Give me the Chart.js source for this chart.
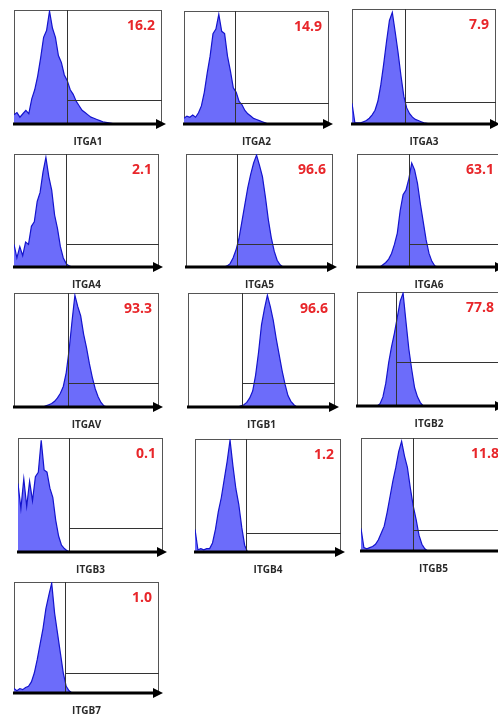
<!DOCTYPE html>
<html>
<head>
<meta charset="utf-8">
<script src="https://cdn.jsdelivr.net/npm/chart.js@4"></script>
<style>
  html, body { margin: 0; background: #fff; width: 498px; height: 719px; overflow: hidden; position: relative; }
  canvas { position: absolute; }
</style>
</head>
<body>
<script>
// integrin markers and % positive cells (right of the gate)
const markers = ['ITGA1', 'ITGA2', 'ITGA3', 'ITGA4', 'ITGA5', 'ITGA6', 'ITGAV',
                 'ITGB1', 'ITGB2', 'ITGB3', 'ITGB4', 'ITGB5', 'ITGB7'];
const positive = ['16.2', '14.9', '7.9', '2.1', '96.6', '63.1', '93.3',
                  '96.6', '77.8', '0.1', '1.2', '11.8', '1.0'];

// gate position, % of axis range
const gateX = [36, 35, 37, 36, 35, 36, 37, 37, 27, 35, 35, 36, 35];
const gateY = [21, 19, 19, 20, 20, 20, 21, 21, 39, 21, 17, 19, 18];

// histogram counts (% of max), one value per bin of width 2 on a 0-100 axis
const BIN = 2;
const itga1 = [8, 10, 6, 9, 12, 9, 22, 30, 42, 58, 76, 82, 99, 84, 76, 60, 54, 43, 38, 30, 26, 20, 16, 12, 10, 8, 6, 5, 4, 3, 2, 1.5, 1, 0.5, 0];
const itga2 = [5, 7, 6, 8, 6, 10, 16, 28, 45, 60, 80, 84, 97, 82, 80, 60, 47, 32, 28, 20, 17, 12, 9, 7, 5, 4, 3, 2, 1, 0];
const itga3 = [18, 1, 1, 1, 2, 3, 5, 8, 12, 20, 34, 52, 72, 90, 97, 80, 62, 42, 24, 14, 9, 6, 4, 3, 2, 1, 0.5, 0];
const itga4 = [20, 8, 18, 10, 22, 20, 36, 40, 58, 66, 84, 97, 80, 68, 46, 34, 18, 8, 3, 1, 0];
const itga5 = [0, 0, 0, 0, 0, 0, 0, 0, 0, 0, 0, 0, 0, 0, 1, 3, 8, 15, 25, 40, 55, 70, 82, 92, 99, 90, 80, 62, 42, 26, 14, 6, 2, 0];
const itga6 = [0, 0, 0, 0, 0, 0, 0, 0, 0, 2, 4, 7, 12, 20, 30, 50, 64, 68, 78, 92, 86, 74, 56, 40, 24, 12, 5, 1, 0];
const itgav = [0, 0, 0, 0, 0, 0, 0, 0, 0, 0, 0, 1, 2, 3, 5, 8, 12, 18, 30, 50, 75, 98, 88, 80, 64, 52, 38, 26, 16, 9, 4, 1, 0];
const itgb1 = [0, 0, 0, 0, 0, 0, 0, 0, 0, 0, 0, 0, 0, 0, 0, 0, 0, 0, 1, 2, 4, 8, 14, 28, 48, 72, 86, 98, 88, 76, 60, 46, 32, 20, 10, 5, 2, 0];
const itgb2 = [0, 0, 0, 0, 0, 0, 0, 0, 2, 8, 20, 38, 52, 64, 78, 92, 99, 74, 50, 32, 16, 8, 3, 0];
const itgb3 = [60, 38, 64, 40, 62, 45, 66, 70, 98, 72, 70, 56, 48, 28, 14, 6, 3, 1, 0];
const itgb4 = [20, 2, 3, 2, 3, 3, 8, 20, 36, 48, 64, 80, 99, 76, 56, 42, 22, 6, 0];
const itgb5 = [20, 3, 2, 3, 4, 6, 10, 16, 22, 34, 48, 62, 74, 88, 97, 84, 74, 56, 40, 28, 14, 6, 2, 0];
const itgb7 = [4, 2, 4, 3, 5, 6, 10, 18, 30, 44, 58, 76, 88, 99, 72, 54, 36, 18, 6, 2, 0];
const counts = [itga1, itga2, itga3, itga4, itga5, itga6, itgav, itgb1, itgb2, itgb3, itgb4, itgb5, itgb7];

// plot box of each panel on the page: left, top, right, axis line (px)
const boxes = [
  [14, 10, 162, 124], [184, 11, 329, 124], [352, 9, 496, 124],
  [14, 154, 159, 267], [186, 154, 333, 267], [357, 154, 501, 267],
  [14, 293, 159, 407], [188, 293, 335, 407], [357, 292, 501, 406],
  [18, 438, 163, 552], [195, 439, 341, 552], [361, 438, 506, 551],
  [14, 582, 159, 693]
];
const PAD = { left: 4, top: 3, right: 12, bottom: 28 };

const gatePlugin = {
  id: 'gate',
  beforeDatasetsDraw(chart, args, opts) {
    const { ctx, chartArea: a } = chart;
    ctx.save();
    ctx.strokeStyle = '#555';
    ctx.lineWidth = 1;
    ctx.strokeRect(a.left + 0.5, a.top + 0.5, a.right - a.left - 1, a.bottom - a.top);
    ctx.restore();
  },
  afterDatasetsDraw(chart, args, opts) {
    const { ctx, chartArea: a, scales: { x, y } } = chart;
    const gx = Math.round(x.getPixelForValue(opts.gx)) + 0.5;
    const gy = Math.round(y.getPixelForValue(opts.gy)) + 0.5;
    ctx.save();
    ctx.strokeStyle = '#333';
    ctx.lineWidth = 1;
    ctx.beginPath();
    ctx.moveTo(gx, a.top);
    ctx.lineTo(gx, a.bottom);
    ctx.moveTo(gx, gy);
    ctx.lineTo(a.right, gy);
    ctx.stroke();

    // thick axis with arrow head
    ctx.strokeStyle = '#000';
    ctx.fillStyle = '#000';
    ctx.lineWidth = 3;
    ctx.beginPath();
    ctx.moveTo(a.left - 1, a.bottom);
    ctx.lineTo(a.right - 4, a.bottom);
    ctx.stroke();
    ctx.beginPath();
    ctx.moveTo(a.right + 4, a.bottom);
    ctx.lineTo(a.right - 6, a.bottom - 5);
    ctx.lineTo(a.right - 6, a.bottom + 5);
    ctx.closePath();
    ctx.fill();

    ctx.fillStyle = '#e8262a';
    ctx.font = 'bold 14px "Open Sans", sans-serif';
    ctx.textAlign = 'right';
    ctx.textBaseline = 'middle';
    ctx.fillText(opts.pct, a.right - 7, a.top + 16);

    ctx.fillStyle = '#2a2a2a';
    ctx.font = 'bold 10px "Open Sans", sans-serif';
    ctx.textAlign = 'center';
    ctx.fillText(opts.name, (a.left + a.right) / 2, a.bottom + 18);
    ctx.restore();
  }
};

boxes.forEach((b, i) => {
  const [l, t, r, bt] = b;
  const cv = document.createElement('canvas');
  cv.width = r - l + PAD.left + PAD.right;
  cv.height = bt - t + PAD.top + PAD.bottom;
  cv.style.left = (l - PAD.left) + 'px';
  cv.style.top = (t - PAD.top) + 'px';
  document.body.appendChild(cv);

  new Chart(cv, {
    type: 'line',
    data: {
      datasets: [{
        data: counts[i].map((v, k) => ({ x: k * BIN, y: v })),
        borderColor: 'rgb(20, 20, 205)',
        borderWidth: 1.2,
        backgroundColor: 'rgb(108, 108, 250)',
        fill: 'origin',
        pointRadius: 0,
        tension: 0
      }]
    },
    options: {
      responsive: false,
      animation: false,
      layout: { padding: PAD },
      plugins: {
        legend: { display: false },
        tooltip: { enabled: false },
        gate: { gx: gateX[i], gy: gateY[i], pct: positive[i], name: markers[i] }
      },
      scales: {
        x: { type: 'linear', min: 0, max: 100, display: false },
        y: { min: 0, max: 100, display: false }
      }
    },
    plugins: [gatePlugin]
  });
});
</script>
</body>
</html>
